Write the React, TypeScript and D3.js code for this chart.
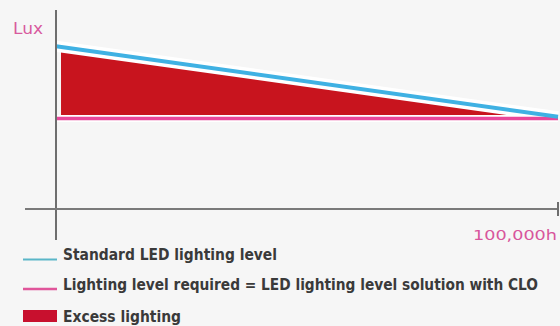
import React from "react";
import * as d3 from "d3";

const hours = [0, 100000];
const standardLevel = [700, 505];
const requiredLevel = [500, 500];
const excessHours = [1000, 100000];
const legendLabels = [
  "Standard LED lighting level",
  "Lighting level required = LED lighting level solution with CLO",
  "Excess lighting",
];
const yAxisLabel = "Lux";
const xEndLabel = "100,000h";

const W = 560;
const H = 326;
const BG = "#f6f6f6";
const BLUE = "#3fb1e3";
const PINK = "#e8479a";
const RED = "#c8141e";
const FONT = "'DejaVu Sans Condensed', 'DejaVu Sans', sans-serif";

export default function App() {
  const x = d3.scaleLinear().domain([0, 100000]).range([56, 558]);
  const y = d3.scaleLinear().domain([250, 800]).range([209, 10]);

  const stdAt = (h: number) =>
    d3.scaleLinear().domain(hours).range(standardLevel)(h);
  const reqAt = (h: number) =>
    d3.scaleLinear().domain(hours).range(requiredLevel)(h);

  const area = d3
    .area<number>()
    .x((d) => x(d))
    .y0((d) => y(reqAt(d)))
    .y1((d) => y(stdAt(d)));

  const line = d3
    .line<number>()
    .x((d, i) => x(hours[i]))
    .y((d) => y(d));

  const [x0, x1] = x.range();
  return (
    <div style={{ position: "fixed", left: 0, top: 0 }}>
      <svg width={W} height={H} style={{ display: "block" }}>
        <rect x={0} y={0} width={W} height={H} fill={BG} />
        {/* excess area */}
        <path d={area(excessHours) || ""} fill={RED} />
        {/* white gaps */}
        <path d={line(standardLevel) || ""} stroke="#fff" strokeWidth={11} fill="none" />
        <path d={line(requiredLevel) || ""} stroke="#fff" strokeWidth={7} fill="none" />
        {/* lines */}
        <path d={line(requiredLevel) || ""} stroke={PINK} strokeWidth={3.5} fill="none" />
        <path d={line(standardLevel) || ""} stroke={BLUE} strokeWidth={4} fill="none" />
        {/* axes */}
        <line x1={x0} x2={x0} y1={10} y2={240} stroke="#6e6e6e" strokeWidth={2} />
        <line x1={25} x2={x1} y1={209} y2={209} stroke="#7a7a7a" strokeWidth={2} />
        <line x1={x1} x2={x1} y1={202} y2={216} stroke="#6e6e6e" strokeWidth={2} />
        <text x={13} y={34} fill="#d85a9e" fontFamily={FONT} fontSize={16} textLength={30} lengthAdjust="spacingAndGlyphs">
          {yAxisLabel}
        </text>
        <text x={473} y={240} fill="#d8559c" fontFamily={FONT} fontSize={14} textLength={84} lengthAdjust="spacingAndGlyphs">
          {xEndLabel}
        </text>
        {/* legend */}
        <line x1={23} x2={57} y1={259.5} y2={259.5} stroke="#5ab6c8" strokeWidth={2} />
        <line x1={23} x2={57} y1={289} y2={289} stroke="#e0559a" strokeWidth={2.5} />
        <rect x={23} y={310} width={34} height={12} fill="#c8102e" />
        {legendLabels.map((t, i) => (
          <text
            key={t}
            x={63}
            y={[260, 290, 322][i]}
            fill="#3a3a3a"
            fontFamily={FONT}
            fontSize={16}
            fontWeight="bold"
            textLength={[214, 475, 118][i]}
            lengthAdjust="spacingAndGlyphs"
          >
            {t}
          </text>
        ))}
      </svg>
    </div>
  );
}
